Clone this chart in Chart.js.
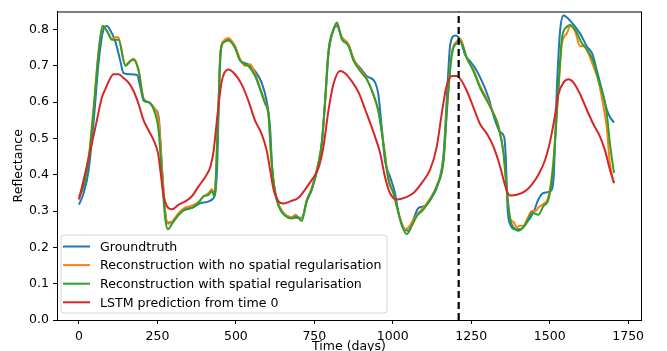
<!DOCTYPE html>
<html>
<head>
<meta charset="utf-8">
<title>Reflectance</title>
<script src="https://cdn.jsdelivr.net/npm/chart.js@4/dist/chart.umd.min.js"></script>
<style>
  body { margin: 0; background: #fff; }
  #wrap { width: 667px; height: 351px; }
</style>
</head>
<body>
<div id="wrap"><canvas id="reflChart" width="667" height="351"></canvas></div>
<script>
// series names, in legend order
var seriesLabels = ['Groundtruth', 'Reconstruction with no spatial regularisation', 'Reconstruction with spatial regularisation', 'LSTM prediction from time 0'];

// groundtruth
var gtDays = [0, 15, 31, 47, 63, 79, 89, 99, 116, 132, 142, 164, 185, 196, 206, 222, 243, 254, 265, 273, 280, 296, 312, 328, 360, 392, 429, 440, 450, 460, 476, 497, 513, 540, 561, 582, 598, 609, 616, 625, 641, 662, 689, 710, 726, 742, 763, 774, 784, 795, 811, 822, 837, 859, 875, 896, 917, 944, 954, 965, 975, 991, 1007, 1018, 1034, 1050, 1066, 1082, 1103, 1124, 1145, 1162, 1174, 1183, 1199, 1215, 1231, 1246, 1262, 1284, 1305, 1326, 1342, 1355, 1360, 1366, 1374, 1390, 1406, 1427, 1448, 1464, 1480, 1502, 1512, 1523, 1533, 1544, 1565, 1597, 1619, 1635, 1650, 1666, 1682, 1693, 1705];
var gtVals = [0.318, 0.35, 0.414, 0.55, 0.713, 0.803, 0.81, 0.80, 0.767, 0.713, 0.68, 0.677, 0.675, 0.64, 0.604, 0.60, 0.58, 0.559, 0.414, 0.314, 0.268, 0.27, 0.287, 0.30, 0.309, 0.323, 0.336, 0.414, 0.73, 0.767, 0.772, 0.754, 0.717, 0.704, 0.686, 0.654, 0.604, 0.53, 0.414, 0.35, 0.309, 0.287, 0.282, 0.282, 0.327, 0.36, 0.43, 0.486, 0.595, 0.73, 0.80, 0.81, 0.78, 0.758, 0.717, 0.695, 0.672, 0.654, 0.622, 0.53, 0.44, 0.395, 0.35, 0.296, 0.255, 0.246, 0.278, 0.309, 0.314, 0.337, 0.377, 0.46, 0.64, 0.758, 0.784, 0.772, 0.73, 0.713, 0.695, 0.658, 0.613, 0.55, 0.518, 0.504, 0.45, 0.305, 0.264, 0.25, 0.25, 0.268, 0.296, 0.332, 0.35, 0.355, 0.386, 0.64, 0.795, 0.839, 0.825, 0.789, 0.753, 0.735, 0.689, 0.635, 0.58, 0.558, 0.544];

// reconstruction, no spatial regularisation
var noRegDays = [0, 15, 31, 47, 63, 77, 90, 105, 120, 126, 148, 164, 174, 190, 206, 222, 238, 254, 265, 275, 284, 296, 318, 339, 360, 381, 397, 413, 424, 432, 443, 452, 462, 476, 497, 513, 530, 545, 561, 577, 593, 604, 612, 622, 636, 657, 678, 690, 700, 710, 726, 742, 763, 774, 784, 795, 811, 822, 837, 859, 875, 896, 917, 938, 954, 970, 986, 1002, 1013, 1029, 1040, 1050, 1061, 1077, 1098, 1119, 1140, 1162, 1174, 1188, 1204, 1215, 1236, 1257, 1278, 1300, 1321, 1337, 1353, 1364, 1374, 1385, 1395, 1405, 1416, 1432, 1443, 1455, 1464, 1480, 1496, 1512, 1528, 1539, 1555, 1565, 1581, 1597, 1610, 1623, 1639, 1655, 1671, 1682, 1692, 1705];
var noRegVals = [0.34, 0.375, 0.45, 0.59, 0.745, 0.81, 0.795, 0.775, 0.78, 0.778, 0.703, 0.715, 0.72, 0.69, 0.61, 0.60, 0.585, 0.55, 0.41, 0.30, 0.265, 0.27, 0.295, 0.31, 0.315, 0.325, 0.34, 0.35, 0.36, 0.345, 0.56, 0.745, 0.77, 0.777, 0.755, 0.72, 0.70, 0.705, 0.68, 0.64, 0.60, 0.56, 0.45, 0.37, 0.318, 0.29, 0.283, 0.29, 0.282, 0.28, 0.33, 0.365, 0.435, 0.49, 0.60, 0.74, 0.80, 0.815, 0.78, 0.76, 0.72, 0.69, 0.665, 0.62, 0.575, 0.49, 0.39, 0.35, 0.31, 0.265, 0.25, 0.255, 0.27, 0.29, 0.31, 0.335, 0.37, 0.445, 0.60, 0.735, 0.768, 0.775, 0.72, 0.69, 0.645, 0.61, 0.57, 0.535, 0.46, 0.35, 0.28, 0.27, 0.255, 0.26, 0.26, 0.285, 0.30, 0.30, 0.31, 0.32, 0.34, 0.44, 0.64, 0.76, 0.79, 0.81, 0.795, 0.754, 0.755, 0.735, 0.70, 0.66, 0.59, 0.53, 0.43, 0.378];

// reconstruction with spatial regularisation
var spRegDays = [0, 15, 31, 47, 63, 75, 90, 105, 126, 148, 164, 174, 190, 206, 222, 238, 254, 265, 275, 284, 296, 318, 339, 360, 381, 397, 413, 424, 432, 443, 452, 462, 476, 497, 513, 540, 561, 577, 593, 604, 612, 622, 636, 657, 678, 694, 710, 726, 742, 763, 774, 784, 795, 811, 822, 837, 859, 875, 896, 917, 938, 954, 970, 986, 1002, 1013, 1029, 1045, 1061, 1077, 1098, 1119, 1140, 1162, 1174, 1188, 1204, 1215, 1236, 1257, 1278, 1300, 1321, 1337, 1353, 1364, 1374, 1385, 1400, 1416, 1432, 1443, 1464, 1480, 1496, 1512, 1528, 1539, 1555, 1565, 1581, 1602, 1623, 1639, 1655, 1671, 1682, 1692, 1705];
var spRegVals = [0.335, 0.37, 0.44, 0.58, 0.74, 0.81, 0.795, 0.772, 0.772, 0.70, 0.713, 0.717, 0.686, 0.608, 0.60, 0.58, 0.52, 0.386, 0.278, 0.25, 0.264, 0.29, 0.305, 0.309, 0.323, 0.341, 0.345, 0.355, 0.34, 0.55, 0.74, 0.765, 0.77, 0.75, 0.715, 0.70, 0.673, 0.636, 0.596, 0.568, 0.459, 0.368, 0.314, 0.287, 0.28, 0.286, 0.273, 0.33, 0.36, 0.43, 0.49, 0.60, 0.74, 0.80, 0.82, 0.775, 0.755, 0.715, 0.686, 0.663, 0.622, 0.577, 0.486, 0.386, 0.35, 0.314, 0.26, 0.237, 0.26, 0.287, 0.305, 0.332, 0.368, 0.44, 0.595, 0.73, 0.763, 0.767, 0.722, 0.686, 0.64, 0.604, 0.568, 0.53, 0.459, 0.35, 0.278, 0.255, 0.246, 0.255, 0.278, 0.296, 0.29, 0.314, 0.332, 0.43, 0.64, 0.776, 0.808, 0.813, 0.80, 0.763, 0.74, 0.713, 0.663, 0.618, 0.568, 0.486, 0.405];

// LSTM prediction from time 0
var lstmDays = [0, 20, 41, 57, 73, 84, 95, 110, 126, 142, 158, 174, 190, 206, 222, 238, 252, 259, 270, 280, 296, 318, 339, 360, 381, 403, 419, 429, 434, 444, 455, 476, 497, 518, 540, 561, 582, 598, 609, 620, 636, 651, 673, 700, 721, 742, 763, 779, 795, 811, 832, 848, 869, 891, 912, 944, 960, 975, 991, 1013, 1039, 1066, 1092, 1119, 1140, 1156, 1170, 1188, 1204, 1220, 1236, 1257, 1278, 1300, 1321, 1342, 1353, 1364, 1374, 1395, 1422, 1443, 1464, 1485, 1502, 1516, 1528, 1544, 1560, 1576, 1597, 1618, 1639, 1661, 1676, 1692, 1705];
var lstmVals = [0.332, 0.405, 0.486, 0.55, 0.613, 0.636, 0.658, 0.677, 0.677, 0.667, 0.654, 0.631, 0.595, 0.55, 0.522, 0.495, 0.459, 0.414, 0.341, 0.314, 0.305, 0.318, 0.327, 0.341, 0.368, 0.395, 0.423, 0.465, 0.504, 0.586, 0.658, 0.69, 0.677, 0.65, 0.604, 0.55, 0.513, 0.468, 0.414, 0.36, 0.327, 0.321, 0.327, 0.337, 0.36, 0.386, 0.418, 0.477, 0.577, 0.65, 0.686, 0.68, 0.658, 0.627, 0.58, 0.504, 0.459, 0.395, 0.35, 0.332, 0.337, 0.35, 0.377, 0.414, 0.477, 0.568, 0.64, 0.672, 0.672, 0.658, 0.631, 0.586, 0.54, 0.513, 0.477, 0.423, 0.386, 0.355, 0.343, 0.345, 0.355, 0.373, 0.40, 0.44, 0.495, 0.559, 0.622, 0.654, 0.663, 0.654, 0.622, 0.58, 0.54, 0.504, 0.468, 0.414, 0.377];

// start of the prediction window (dashed line)
var splitDay = 1210;

// tick labels
var xTicks = [0, 250, 500, 750, 1000, 1250, 1500, 1750];
var yTicks = [0.0, 0.1, 0.2, 0.3, 0.4, 0.5, 0.6, 0.7, 0.8];

var colors = ['#1f77b4', '#ff7f0e', '#2ca02c', '#d62728'];

function pts(days, vals) {
    return days.map(function (d, i) { return { x: d, y: vals[i] }; });
}

function line(label, days, vals, color, order) {
    return {
        label: label,
        data: pts(days, vals),
        borderColor: color,
        backgroundColor: color,
        borderWidth: 2,
        pointRadius: 0,
        cubicInterpolationMode: 'monotone',
        order: order
    };
}

// frame around the plot + legend box in the lower left corner
var frameAndLegend = {
    id: 'frameAndLegend',
    afterDraw: function (chart) {
        var ctx = chart.ctx, a = chart.chartArea;
        ctx.save();
        ctx.strokeStyle = '#000';
        ctx.lineWidth = 1;
        ctx.strokeRect(a.left + 0.5, a.top + 0.5, a.right - a.left, a.bottom - a.top);

        var x0 = a.left + 4, y0 = a.bottom - 85, w = 326, h = 78, r = 3;
        ctx.beginPath();
        ctx.moveTo(x0 + r, y0);
        ctx.arcTo(x0 + w, y0, x0 + w, y0 + h, r);
        ctx.arcTo(x0 + w, y0 + h, x0, y0 + h, r);
        ctx.arcTo(x0, y0 + h, x0, y0, r);
        ctx.arcTo(x0, y0, x0 + w, y0, r);
        ctx.closePath();
        ctx.fillStyle = 'rgba(255,255,255,0.8)';
        ctx.fill();
        ctx.strokeStyle = '#d6d6d6';
        ctx.stroke();

        ctx.font = '12.6px "DejaVu Sans"';
        ctx.textBaseline = 'middle';
        ctx.fillStyle = '#000';
        ctx.lineWidth = 2;
        for (var i = 0; i < seriesLabels.length; i++) {
            var yy = y0 + 11.5 + i * 18.6;
            ctx.strokeStyle = colors[i];
            ctx.beginPath();
            ctx.moveTo(x0 + 2, yy);
            ctx.lineTo(x0 + 29, yy);
            ctx.stroke();
            ctx.fillText(seriesLabels[i], x0 + 39, yy + 1);
        }
        ctx.restore();
    }
};

Chart.defaults.font.family = '"DejaVu Sans", sans-serif';
Chart.defaults.font.size = 12.5;
Chart.defaults.color = '#000';

var ctx = document.getElementById('reflChart').getContext('2d');
var reflChart = new Chart(ctx, {
    type: 'line',
    data: {
        datasets: [
            line(seriesLabels[0], gtDays, gtVals, colors[0], 4),
            line(seriesLabels[1], noRegDays, noRegVals, colors[1], 3),
            line(seriesLabels[2], spRegDays, spRegVals, colors[2], 2),
            line(seriesLabels[3], lstmDays, lstmVals, colors[3], 1),
            {
                label: 'split',
                data: [{ x: splitDay, y: 0 }, { x: splitDay, y: 0.85 }],
                borderColor: '#000',
                borderWidth: 2.2,
                borderDash: [7, 4],
                pointRadius: 0,
                order: 0
            }
        ]
    },
    options: {
        responsive: false,
        animation: false,
        layout: { padding: { top: 8, right: 26, left: 0, bottom: 0 } },
        plugins: {
            legend: { display: false },
            tooltip: { enabled: false }
        },
        scales: {
            x: {
                type: 'linear',
                min: -70,
                max: 1791,
                afterBuildTicks: function (s) { s.ticks = xTicks.map(function (v) { return { value: v }; }); },
                afterFit: function (s) { s.height = 31; },
                ticks: { maxRotation: 0, padding: 5, color: '#000', callback: function (v) { return String(v); } },
                grid: { drawOnChartArea: false, drawTicks: true, tickLength: 4, color: '#000' },
                border: { display: true, color: '#000' },
                title: { display: true, text: 'Time (days)', padding: { top: 0, bottom: -3 } }
            },
            y: {
                min: 0,
                max: 0.85,
                afterBuildTicks: function (s) { s.ticks = yTicks.map(function (v) { return { value: v }; }); },
                afterFit: function (s) { s.width = 57; },
                ticks: { padding: 4, color: '#000', callback: function (v) { return v.toFixed(1); } },
                grid: { drawOnChartArea: false, drawTicks: true, tickLength: 4, color: '#000' },
                border: { display: true, color: '#000' },
                title: { display: true, text: 'Reflectance', padding: { top: 11, bottom: 0 } }
            }
        }
    },
    plugins: [frameAndLegend]
});
</script>
</body>
</html>
